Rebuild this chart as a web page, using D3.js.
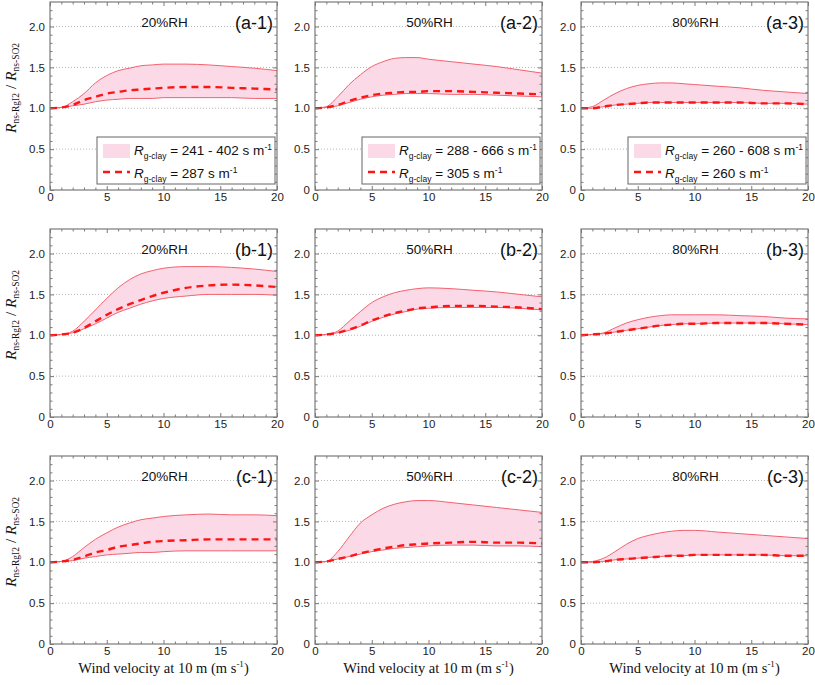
<!DOCTYPE html>
<html><head><meta charset="utf-8">
<script src="https://cdn.jsdelivr.net/npm/d3@7"></script>
<style>html,body{margin:0;padding:0;background:#fff;}</style>
</head><body>
<svg id="c" width="815" height="685"></svg>
<script>
// ---- data ----
const windSpeed = [0,1,2,3,4,5,6,7,8,9,10,12,14,16,18,20];
const panelIds = ["a-1","a-2","a-3","b-1","b-2","b-3","c-1","c-2","c-3"];
const rhLabels = ["20%RH","50%RH","80%RH"];
const legendRanges = ["241 - 402","288 - 666","260 - 608"];
const legendBest = ["287","305","260"];
const xTicks = [0,5,10,15,20];
const yTicks = [0,0.5,1.0,1.5,2.0];

// upper bound, best estimate (dashed), lower bound for each panel
const upperA1 = [1.00,1.01,1.08,1.18,1.31,1.40,1.46,1.49,1.52,1.53,1.54,1.54,1.53,1.51,1.49,1.46];
const bestA1  = [1.00,1.01,1.04,1.10,1.14,1.18,1.20,1.22,1.23,1.24,1.25,1.26,1.26,1.25,1.24,1.23];
const lowerA1 = [1.00,1.01,1.03,1.05,1.08,1.10,1.11,1.12,1.12,1.12,1.13,1.13,1.13,1.13,1.12,1.12];

const upperA2 = [1.00,1.02,1.14,1.29,1.41,1.51,1.57,1.61,1.62,1.62,1.60,1.57,1.54,1.51,1.47,1.43];
const bestA2  = [1.00,1.01,1.04,1.09,1.13,1.16,1.18,1.19,1.20,1.20,1.21,1.21,1.20,1.19,1.18,1.17];
const lowerA2 = [1.00,1.01,1.03,1.07,1.11,1.14,1.16,1.17,1.18,1.18,1.18,1.17,1.17,1.16,1.15,1.14];

const upperA3 = [1.00,1.02,1.10,1.18,1.24,1.28,1.30,1.31,1.31,1.30,1.29,1.27,1.25,1.22,1.20,1.18];
const bestA3  = [1.00,1.00,1.02,1.04,1.05,1.06,1.07,1.07,1.07,1.07,1.07,1.07,1.07,1.06,1.06,1.05];
const lowerA3 = [1.00,1.00,1.02,1.04,1.05,1.06,1.07,1.07,1.07,1.07,1.07,1.07,1.07,1.06,1.06,1.05];

const upperB1 = [1.00,1.01,1.05,1.17,1.31,1.45,1.58,1.68,1.75,1.79,1.82,1.84,1.84,1.83,1.81,1.78];
const bestB1  = [1.00,1.01,1.03,1.09,1.17,1.25,1.32,1.38,1.43,1.48,1.52,1.58,1.61,1.62,1.61,1.59];
const lowerB1 = [1.00,1.01,1.03,1.08,1.14,1.21,1.28,1.33,1.38,1.42,1.45,1.48,1.50,1.50,1.50,1.49];

const upperB2 = [1.00,1.01,1.05,1.17,1.29,1.40,1.47,1.52,1.55,1.57,1.58,1.57,1.55,1.53,1.50,1.47];
const bestB2  = [1.00,1.01,1.03,1.07,1.12,1.18,1.23,1.27,1.30,1.33,1.34,1.36,1.36,1.35,1.34,1.32];
const lowerB2 = [1.00,1.01,1.03,1.06,1.11,1.17,1.22,1.26,1.29,1.32,1.33,1.34,1.34,1.34,1.33,1.31];

const upperB3 = [1.00,1.01,1.03,1.09,1.15,1.19,1.22,1.24,1.25,1.25,1.25,1.25,1.24,1.23,1.21,1.20];
const bestB3  = [1.00,1.01,1.02,1.04,1.06,1.08,1.10,1.12,1.13,1.14,1.14,1.15,1.15,1.15,1.14,1.13];
const lowerB3 = [1.00,1.01,1.02,1.04,1.06,1.08,1.10,1.12,1.13,1.14,1.14,1.15,1.15,1.15,1.14,1.13];

const upperC1 = [1.00,1.01,1.07,1.18,1.28,1.36,1.43,1.48,1.52,1.54,1.56,1.58,1.59,1.58,1.58,1.57];
const bestC1  = [1.00,1.01,1.03,1.07,1.12,1.15,1.19,1.21,1.23,1.25,1.26,1.27,1.28,1.28,1.28,1.28];
const lowerC1 = [1.00,1.01,1.02,1.05,1.07,1.09,1.10,1.11,1.12,1.12,1.13,1.14,1.14,1.14,1.14,1.14];

const upperC2 = [1.00,1.01,1.13,1.31,1.48,1.58,1.66,1.71,1.74,1.755,1.755,1.73,1.70,1.67,1.64,1.61];
const bestC2  = [1.00,1.01,1.04,1.07,1.11,1.14,1.17,1.19,1.21,1.22,1.23,1.24,1.25,1.24,1.24,1.23];
const lowerC2 = [1.00,1.01,1.04,1.07,1.10,1.13,1.15,1.17,1.18,1.19,1.20,1.21,1.21,1.20,1.20,1.19];

const upperC3 = [1.00,1.01,1.05,1.13,1.22,1.29,1.33,1.36,1.38,1.39,1.39,1.37,1.35,1.33,1.31,1.29];
const bestC3  = [1.00,1.00,1.01,1.03,1.04,1.05,1.06,1.07,1.08,1.08,1.09,1.09,1.09,1.09,1.08,1.08];
const lowerC3 = [1.00,1.00,1.01,1.03,1.04,1.05,1.06,1.07,1.08,1.08,1.09,1.09,1.09,1.09,1.08,1.08];

const uppers = [upperA1,upperA2,upperA3,upperB1,upperB2,upperB3,upperC1,upperC2,upperC3];
const bests  = [bestA1,bestA2,bestA3,bestB1,bestB2,bestB3,bestC1,bestC2,bestC3];
const lowers = [lowerA1,lowerA2,lowerA3,lowerB1,lowerB2,lowerB3,lowerC1,lowerC2,lowerC3];

// ---- layout ----
const colLeft = [50, 315, 581];
const rowBottom = [190, 417, 644];
const W = 227, H = 188;
const sans = "'Liberation Sans', Arial, sans-serif";
const serif = "'Liberation Serif', 'Times New Roman', serif";
const fillCol = "#fcd9e7", edgeCol = "#f2616f", dashCol = "#ff1414", frameCol = "#7a7a7a";

const svg = d3.select("#c");

panelIds.forEach((id, i) => {
  const r = Math.floor(i/3), c = i%3;
  const left = colLeft[c], top = rowBottom[r]-H;
  const g = svg.append("g").attr("transform", `translate(${left},${top})`);
  const x = d3.scaleLinear().domain([0,20]).range([0,W]);
  const y = d3.scaleLinear().domain([0,2.3]).range([H,0]);

  // grid
  g.selectAll(".grid").data(yTicks.filter(v=>v>0)).enter().append("line")
    .attr("x1",0).attr("x2",W).attr("y1",d=>y(d)).attr("y2",d=>y(d))
    .attr("stroke","#b5b5b5").attr("stroke-width",1).attr("stroke-dasharray","1,2");

  const pts = windSpeed.map((w,k)=>({w, u:uppers[i][k], b:bests[i][k], l:lowers[i][k]}));
  const curve = d3.curveMonotoneX;
  g.append("path").datum(pts)
    .attr("d", d3.area().x(d=>x(d.w)).y0(d=>y(d.l)).y1(d=>y(d.u)).curve(curve))
    .attr("fill", fillCol);
  g.append("path").datum(pts)
    .attr("d", d3.line().x(d=>x(d.w)).y(d=>y(d.u)).curve(curve))
    .attr("fill","none").attr("stroke",edgeCol).attr("stroke-width",1);
  g.append("path").datum(pts)
    .attr("d", d3.line().x(d=>x(d.w)).y(d=>y(d.l)).curve(curve))
    .attr("fill","none").attr("stroke",edgeCol).attr("stroke-width",1);
  g.append("path").datum(pts)
    .attr("d", d3.line().x(d=>x(d.w)).y(d=>y(d.b)).curve(curve))
    .attr("fill","none").attr("stroke",dashCol).attr("stroke-width",2.4).attr("stroke-dasharray","7,5");

  // axes with inward ticks
  const minorX = d3.range(0,21,1);
  const mkX = (orient, ty) => {
    const ax = (orient==="b"?d3.axisBottom(x):d3.axisTop(x)).tickValues(minorX)
      .tickSize(-2).tickFormat("");
    const a = g.append("g").attr("transform",`translate(0,${ty})`).call(ax);
    a.selectAll(".tick line").attr("stroke",frameCol).attr("y2", (d)=> (d%5===0? 4:2.5)*(orient==="b"?-1:1));
    a.select(".domain").remove();
  };
  mkX("b", H); mkX("t", 0);
  const minorY = d3.range(0,23,1).map(v=>v/10);
  const mkY = (orient, tx) => {
    const ax = (orient==="l"?d3.axisLeft(y):d3.axisRight(y)).tickValues(minorY).tickSize(-2).tickFormat("");
    const a = g.append("g").attr("transform",`translate(${tx},0)`).call(ax);
    a.selectAll(".tick line").attr("stroke",frameCol).attr("x2", d => (Math.abs(d*2-Math.round(d*2))<1e-6? 4:2.5)*(orient==="l"?1:-1));
    a.select(".domain").remove();
  };
  mkY("l", 0); mkY("r", W);

  g.append("rect").attr("x",0).attr("y",0).attr("width",W).attr("height",H)
    .attr("fill","none").attr("stroke",frameCol).attr("stroke-width",1.2);

  // tick labels
  const xl = d3.axisBottom(x).tickValues(xTicks).tickSize(0).tickPadding(3).tickFormat(d3.format("d"));
  const xa = g.append("g").attr("transform",`translate(0,${H})`).call(xl);
  xa.select(".domain").remove();
  xa.selectAll("text").attr("font-family",sans).attr("font-size",11.5).attr("fill","#222");
  const yl = d3.axisLeft(y).tickValues(yTicks).tickSize(0).tickPadding(5).tickFormat(d=> d===0?"0":d3.format(".1f")(d));
  const ya = g.append("g").call(yl);
  ya.select(".domain").remove();
  ya.selectAll("text").attr("font-family",sans).attr("font-size",11.5).attr("fill","#222");

  // titles
  g.append("text").attr("x",W/2+1).attr("y",25).attr("text-anchor","middle")
    .attr("font-family",sans).attr("font-size",13.5).attr("fill","#111").text(rhLabels[c]);
  g.append("text").attr("x",W-4).attr("y",27).attr("text-anchor","end")
    .attr("font-family",sans).attr("font-size",18).attr("fill","#111").text(`(${id})`);

  // legend (top row only)
  if (r===0) {
    const lx = 47, ly = 135, lw = W-49, lh = 47;
    const lg = g.append("g").attr("transform",`translate(${lx},${ly})`);
    lg.append("rect").attr("width",lw).attr("height",lh).attr("fill","#fff").attr("stroke","#666").attr("stroke-width",1);
    lg.append("rect").attr("x",6).attr("y",7).attr("width",27).attr("height",14).attr("fill",fillCol);
    lg.append("line").attr("x1",6).attr("x2",33).attr("y1",35).attr("y2",35)
      .attr("stroke",dashCol).attr("stroke-width",2.4).attr("stroke-dasharray","7,5");
    const rows = [[legendRanges[c], 18], [legendBest[c], 41]];
    rows.forEach(([val, by]) => {
      const t = lg.append("text").attr("x",37).attr("y",by).attr("font-family",sans).attr("font-size",13.5).attr("fill","#111");
      t.append("tspan").attr("font-style","italic").text("R");
      t.append("tspan").attr("font-size",8.5).attr("dy",4).text("g-clay");
      t.append("tspan").attr("dy",-4).text(` = ${val} s m`);
      t.append("tspan").attr("font-size",8.5).attr("dy",-5).text("-1");
    });
  }

  // y-axis label (left column)
  if (c===0) {
    const cy = H/2 - 8;
    const t = g.append("text").attr("transform",`translate(${-34},${cy}) rotate(-90)`)
      .attr("text-anchor","middle").attr("font-family",serif).attr("font-size",15.5).attr("fill","#111");
    t.append("tspan").attr("font-style","italic").text("R");
    t.append("tspan").attr("font-size",9.5).attr("dy",3).text("ns-RgI2");
    t.append("tspan").attr("dy",-3).text(" / ");
    t.append("tspan").attr("font-style","italic").text("R");
    t.append("tspan").attr("font-size",9.5).attr("dy",3).text("ns-SO2");
  }
  // x-axis label (bottom row)
  if (r===2) {
    const t = g.append("text").attr("x",W/2).attr("y",H+29).attr("text-anchor","middle")
      .attr("font-family",serif).attr("font-size",14.5).attr("fill","#111");
    t.append("tspan").text("Wind velocity at 10 m (m s");
    t.append("tspan").attr("font-size",9).attr("dy",-6).text("-1");
    t.append("tspan").attr("dy",6).text(")");
  }
});
</script>
</body></html>
